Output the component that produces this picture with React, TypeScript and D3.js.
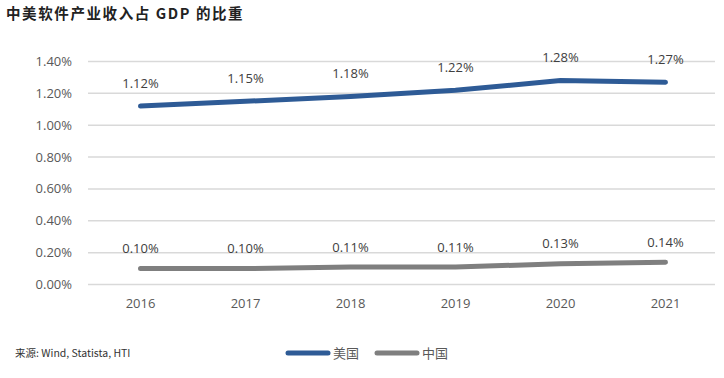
import React from "react";
import * as d3 from "d3";

const years = ["2016", "2017", "2018", "2019", "2020", "2021"];
const usValues = [1.12, 1.15, 1.18, 1.22, 1.28, 1.27];
const cnValues = [0.10, 0.10, 0.11, 0.11, 0.13, 0.14];
const yTicks = [0, 0.2, 0.4, 0.6, 0.8, 1.0, 1.2, 1.4];
const seriesNames = ["美国", "中国"];
const seriesColors = ["#2e5b96", "#7f7f7f"];

const W = 724, H = 378;
const left = 88, right = 718, top = 61.5, bottom = 284.5;

export default function App() {
  const x = d3.scaleBand<string>().domain(years).range([left, right]);
  const y = d3.scaleLinear().domain([0, 1.4]).range([bottom, top]);
  const line = d3.line<number>()
    .x((_, i) => (x(years[i]) as number) + x.bandwidth() / 2)
    .y((d) => y(d));
  const series = [usValues, cnValues];
  const font = "'Open Sans', 'Noto Sans', sans-serif";
  return (
    <svg width={W} height={H} style={{ position: "absolute", left: 0, top: 0, background: "#fff" }}>
      <text x={6} y={19} fontFamily="'Noto Sans CJK SC', sans-serif" fontWeight="bold" fontSize={14.5} letterSpacing={1.6} fill="#222">
        中美软件产业收入占 GDP 的比重
      </text>
      {yTicks.map((t) => (
        <g key={t}>
          <line x1={left} x2={715} y1={y(t)} y2={y(t)} stroke="#d9d9d9" strokeWidth={1.5} />
          <text x={72} y={y(t)} dy="0.35em" textAnchor="end" fontFamily={font} fontSize={13} fill="#595959">
            {t.toFixed(2) + "%"}
          </text>
        </g>
      ))}
      {years.map((yr) => (
        <text key={yr} x={(x(yr) as number) + x.bandwidth() / 2} y={308} textAnchor="middle" fontFamily={font} fontSize={13} fill="#595959">
          {yr}
        </text>
      ))}
      {series.map((s, si) => (
        <g key={si}>
          <path d={line(s) || ""} fill="none" stroke={seriesColors[si]} strokeWidth={5} strokeLinecap="round" strokeLinejoin="round" />
          {s.map((v, i) => (
            <text key={i} x={(x(years[i]) as number) + x.bandwidth() / 2} y={y(v) - (si === 0 ? 23 : 20)} dy="0.35em" textAnchor="middle" fontFamily={font} fontSize={13} fill="#404040">
              {v.toFixed(2) + "%"}
            </text>
          ))}
        </g>
      ))}
      <text x={15} y={357} fontFamily="'Noto Sans CJK SC', 'Open Sans', sans-serif" fontSize={10.5} fill="#333">
        来源: Wind, Statista, HTI
      </text>
      {seriesNames.map((n, i) => (
        <g key={n} transform={`translate(${288 + i * 89},0)`}>
          <line x1={0} x2={40} y1={353} y2={353} stroke={seriesColors[i]} strokeWidth={5} strokeLinecap="round" />
          <text x={45} y={353} dy="0.35em" fontFamily="'Noto Sans CJK SC', sans-serif" fontSize={13} fill="#595959">
            {n}
          </text>
        </g>
      ))}
    </svg>
  );
}
